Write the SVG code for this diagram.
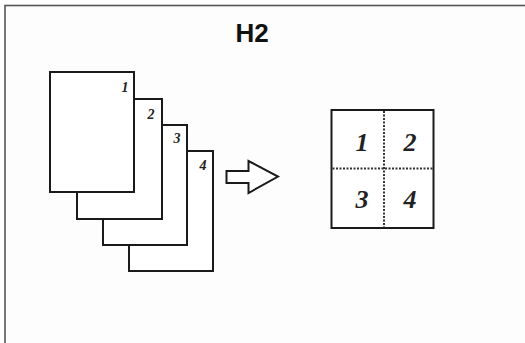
<svg xmlns="http://www.w3.org/2000/svg" width="525" height="343" viewBox="0 0 525 343">
  <style>
    .page { fill: #ffffff; stroke: #1a1a1a; stroke-width: 2; }
    .frame { fill: #fdfdfd; stroke: #555555; stroke-width: 1.6; }
    .sn { font-family: "Liberation Serif", serif; font-style: italic; font-weight: bold; font-size: 14px; fill: #222222; text-anchor: middle; }
    .bn { font-family: "Liberation Serif", serif; font-style: italic; font-weight: bold; font-size: 26px; fill: #222222; text-anchor: middle; }
    .title { font-family: "Liberation Sans", Arial, sans-serif; font-weight: bold; font-size: 26px; fill: #111111; text-anchor: middle; }
    .dash { stroke: #333333; stroke-width: 2; stroke-dasharray: 2 1.5; fill: none; }
  </style>
  <rect x="0" y="0" width="525" height="343" fill="#ffffff"/>
  <rect class="frame" x="5" y="5.5" width="540" height="360"/>
  <text class="title" x="252" y="42">H2</text>

  <g id="page4">
    <rect class="page" x="129" y="151" width="84" height="120"/>
    <text class="sn" x="203" y="170">4</text>
  </g>
  <g id="page3">
    <rect class="page" x="103" y="125" width="84" height="120"/>
    <text class="sn" x="177" y="143">3</text>
  </g>
  <g id="page2">
    <rect class="page" x="77" y="99" width="85" height="120"/>
    <text class="sn" x="151" y="119">2</text>
  </g>
  <g id="page1">
    <rect class="page" x="50" y="72" width="84" height="120"/>
    <text class="sn" x="125" y="92">1</text>
  </g>

  <g id="connectors">
    <path d="M226.5 171 L248.5 171 L248.5 161 L278 176.5 L248.5 193 L248.5 183 L226.5 183 Z" fill="#ffffff" stroke="#1a1a1a" stroke-width="2" stroke-linejoin="miter"/>
  </g>

  <g id="result">
    <rect class="page" x="331.5" y="110" width="102" height="118"/>
    <line class="dash" x1="384" y1="111" x2="384" y2="227"/>
    <line class="dash" x1="332.5" y1="168.5" x2="432.5" y2="168.5"/>
    <text class="bn" x="362" y="151">1</text>
    <text class="bn" x="410" y="151">2</text>
    <text class="bn" x="362" y="208">3</text>
    <text class="bn" x="410" y="208">4</text>
  </g>
</svg>
